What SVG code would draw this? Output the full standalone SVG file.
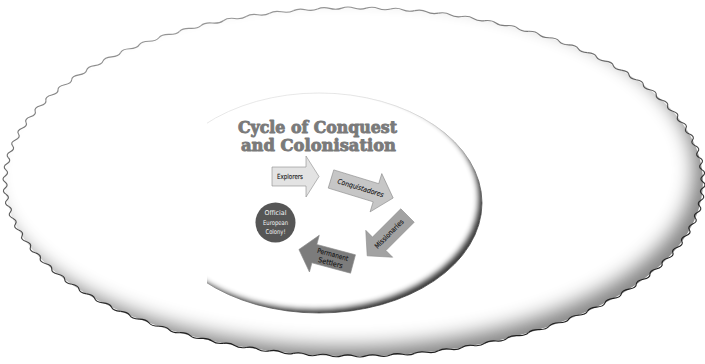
<svg xmlns="http://www.w3.org/2000/svg" xmlns:xlink="http://www.w3.org/1999/xlink" width="705" height="364" viewBox="0 0 705 364">
  <style>
    .lbl{font-family:"DejaVu Sans","Liberation Sans",sans-serif;font-size:7px;fill:#151515;stroke:#151515;stroke-width:0.12;text-anchor:middle}
    .lbl-w{font-family:"DejaVu Sans","Liberation Sans",sans-serif;font-size:6.6px;fill:#f4f4f4;text-anchor:middle}
    .ttl{font-family:"DejaVu Serif","Liberation Serif",serif;font-weight:bold;font-size:16px;fill:#7a7a7a;stroke:#7a7a7a;stroke-width:0.9;stroke-linejoin:round}
    .arr{stroke:#8c8c8c;stroke-width:0.6;stroke-linejoin:miter}
  </style>
  <defs>
    <!-- inner shadow for the big scalloped oval -->
    <filter id="insetBig" x="-10%" y="-15%" width="120%" height="130%">
      <feComponentTransfer in="SourceAlpha"><feFuncA type="table" tableValues="1 0"/></feComponentTransfer>
      <feGaussianBlur stdDeviation="9"/>
      <feOffset dx="-12" dy="-12"/>
      <feComposite in2="SourceAlpha" operator="in"/>
      <feComponentTransfer result="shade"><feFuncA type="linear" slope="0.75"/></feComponentTransfer>
      <feMerge><feMergeNode in="SourceGraphic"/><feMergeNode in="shade"/></feMerge>
    </filter>
    <!-- tighter inner shadow for the inner oval -->
    <filter id="insetSmall" x="-10%" y="-15%" width="120%" height="130%">
      <feComponentTransfer in="SourceAlpha"><feFuncA type="table" tableValues="1 0"/></feComponentTransfer>
      <feGaussianBlur stdDeviation="2.5"/>
      <feOffset dx="-5" dy="-5"/>
      <feComposite in2="SourceAlpha" operator="in"/>
      <feComponentTransfer result="shade"><feFuncA type="linear" slope="0.95"/></feComponentTransfer>
      <feMerge><feMergeNode in="SourceGraphic"/><feMergeNode in="shade"/></feMerge>
    </filter>
    <!-- one wave of the scalloped rim on a unit circle (4 degrees) -->
    <path id="wave" d="M1 0Q1.011846 0.017661 0.999391 0.034899T0.997564 0.069756" fill="none" stroke="#1e1e1e" stroke-width="1.15" vector-effect="non-scaling-stroke"/>
    <g id="wave9">
      <use xlink:href="#wave"/>
      <use xlink:href="#wave" transform="rotate(4)"/>
      <use xlink:href="#wave" transform="rotate(8)"/>
      <use xlink:href="#wave" transform="rotate(12)"/>
      <use xlink:href="#wave" transform="rotate(16)"/>
      <use xlink:href="#wave" transform="rotate(20)"/>
      <use xlink:href="#wave" transform="rotate(24)"/>
      <use xlink:href="#wave" transform="rotate(28)"/>
      <use xlink:href="#wave" transform="rotate(32)"/>
    </g>
    <linearGradient id="rimFade" x1="0.35" y1="0.05" x2="0.6" y2="0.8">
      <stop offset="0" stop-color="#777"/>
      <stop offset="1" stop-color="#fff"/>
    </linearGradient>
    <mask id="rimMask" maskUnits="userSpaceOnUse" x="0" y="0" width="705" height="364">
      <rect x="0" y="0" width="705" height="364" fill="url(#rimFade)"/>
    </mask>
    <clipPath id="picClip">
      <rect x="207" y="0" width="400" height="364"/>
    </clipPath>
  </defs>

  <rect width="705" height="364" fill="#fff"/>

  <!-- big scalloped oval -->
  <g id="outer-oval">
    <ellipse cx="354" cy="182" rx="349" ry="174" fill="#fff" filter="url(#insetBig)"/>
    <g mask="url(#rimMask)">
      <g transform="translate(354,182) scale(349,174)">
        <use xlink:href="#wave9"/>
        <use xlink:href="#wave9" transform="rotate(36)"/>
        <use xlink:href="#wave9" transform="rotate(72)"/>
        <use xlink:href="#wave9" transform="rotate(108)"/>
        <use xlink:href="#wave9" transform="rotate(144)"/>
        <use xlink:href="#wave9" transform="rotate(180)"/>
        <use xlink:href="#wave9" transform="rotate(216)"/>
        <use xlink:href="#wave9" transform="rotate(252)"/>
        <use xlink:href="#wave9" transform="rotate(288)"/>
        <use xlink:href="#wave9" transform="rotate(324)"/>
      </g>
    </g>
  </g>

  <!-- inner oval holding the cycle -->
  <g id="inner-oval" clip-path="url(#picClip)">
    <ellipse cx="319" cy="203" rx="163" ry="110" fill="#fff" stroke="#e2e2e2" stroke-width="0.8" filter="url(#insetSmall)"/>
  </g>

  <g id="title">
    <text class="ttl" x="238" y="133" textLength="159" lengthAdjust="spacingAndGlyphs">Cycle of Conquest</text>
    <text class="ttl" x="241" y="151" textLength="155" lengthAdjust="spacingAndGlyphs">and Colonisation</text>
  </g>

  <g id="explorers">
    <polygon class="arr" fill="#e3e3e3" points="272,167 306,167 306,156 319,176.5 306,197 306,186 272,186"/>
    <text class="lbl" x="290" y="179" textLength="26" lengthAdjust="spacingAndGlyphs">Explorers</text>
  </g>

  <g id="conquistadores" transform="translate(331,179) rotate(17)">
    <polygon class="arr" fill="#c6c6c6" points="0,-9.5 47,-9.5 47,-20 65,0 47,20 47,9.5 0,9.5"/>
    <text class="lbl" x="31" y="2.4" font-style="italic" textLength="48" lengthAdjust="spacingAndGlyphs">Conquistadores</text>
  </g>

  <g id="missionaries" transform="translate(407.5,215.5) rotate(135)">
    <polygon class="arr" fill="#a2a2a2" points="0,-9.5 40,-9.5 40,-19 57,0 40,19 40,9.5 0,9.5"/>
    <text class="lbl" transform="translate(26,0) rotate(180)" x="0" y="2.4" textLength="38" lengthAdjust="spacingAndGlyphs">Missionaries</text>
  </g>

  <g id="permanent-settlers" transform="translate(353,264) rotate(195)">
    <polygon class="arr" fill="#7c7c7c" points="0,-9.5 40,-9.5 40,-19 56,0 40,19 40,9.5 0,9.5"/>
    <g transform="translate(22,0) rotate(180)">
      <text class="lbl" x="0" y="-1.5" textLength="32" lengthAdjust="spacingAndGlyphs">Permanent</text>
      <text class="lbl" x="0" y="7" textLength="25" lengthAdjust="spacingAndGlyphs">Settlers</text>
    </g>
  </g>

  <g id="colony">
    <circle cx="275.5" cy="222.5" r="20" fill="#565656"/>
    <text class="lbl-w" x="275.5" y="215" textLength="22" lengthAdjust="spacingAndGlyphs">Official</text>
    <text class="lbl-w" x="275.5" y="224.5" textLength="25" lengthAdjust="spacingAndGlyphs">European</text>
    <text class="lbl-w" x="275.5" y="234" textLength="20" lengthAdjust="spacingAndGlyphs">Colony!</text>
  </g>
</svg>
